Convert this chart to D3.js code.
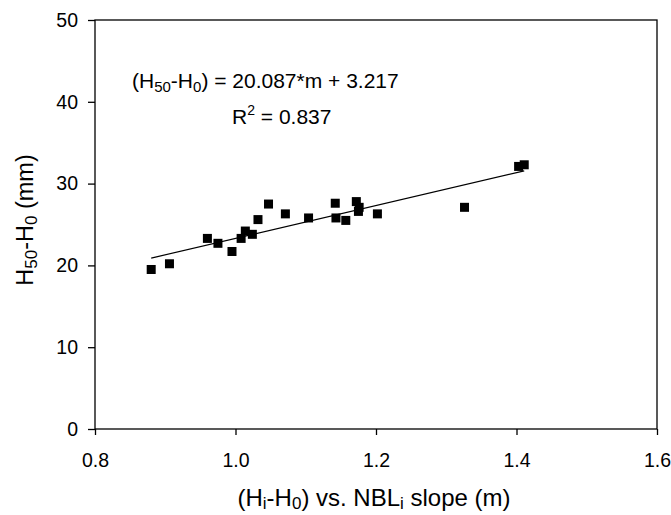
<!DOCTYPE html>
<html>
<head>
<meta charset="utf-8">
<script src="https://cdn.jsdelivr.net/npm/d3@7"></script>
<style>
  body { margin: 0; background: #fff; }
  text { font-family: "Liberation Sans", Arial, sans-serif; fill: #000; }
</style>
</head>
<body>
<div id="viz"></div>
<script>
const slopeM = [0.880, 0.906, 0.960, 0.975, 0.995, 1.008, 1.014, 1.024, 1.032, 1.047,
                1.071, 1.104, 1.142, 1.143, 1.157, 1.172, 1.176, 1.175, 1.202, 1.326,
                1.403, 1.411];
const h50 = [19.5, 20.2, 23.3, 22.7, 21.7, 23.3, 24.2, 23.8, 25.6, 27.5,
             26.3, 25.8, 27.6, 25.8, 25.5, 27.8, 27.1, 26.6, 26.3, 27.1,
             32.1, 32.3];
const fitSlope = 20.087;
const fitIntercept = 3.217;
const xTicks = [0.8, 1.0, 1.2, 1.4, 1.6];
const yTicks = [0, 10, 20, 30, 40, 50];

const width = 671;
const height = 515;
const margin = {top: 20, right: 14, bottom: 86, left: 95};

const svg = d3.select('#viz')
  .append('svg')
  .attr('width', width)
  .attr('height', height);

const x = d3.scaleLinear()
  .domain([0.8, 1.6])
  .range([margin.left, width - margin.right]);
const y = d3.scaleLinear()
  .domain([0, 50])
  .range([height - margin.bottom, margin.top]);

// plot frame
svg.append('rect')
  .attr('x', x(0.8))
  .attr('y', y(50))
  .attr('width', x(1.6) - x(0.8))
  .attr('height', y(0) - y(50))
  .attr('fill', 'none')
  .attr('stroke', '#000')
  .attr('stroke-width', 1.3);

const xAxis = svg.append('g')
  .attr('transform', `translate(0, ${y(0)})`)
  .call(d3.axisBottom(x).tickValues(xTicks).tickFormat(d3.format('.1f')).tickSize(6).tickPadding(18));
const yAxis = svg.append('g')
  .attr('transform', `translate(${x(0.8)}, 0)`)
  .call(d3.axisLeft(y).tickValues(yTicks).tickSize(7).tickPadding(10));

[xAxis, yAxis].forEach(g => {
  g.select('.domain').remove();
  g.selectAll('line').attr('stroke', '#000').attr('stroke-width', 1.3);
  g.selectAll('text')
    .attr('font-size', 19.5)
    .attr('font-family', '"Liberation Sans", Arial, sans-serif')
    .attr('fill', '#333');
});

// trend line
const ext = d3.extent(slopeM);
svg.append('line')
  .attr('x1', x(ext[0]))
  .attr('y1', y(fitSlope * ext[0] + fitIntercept))
  .attr('x2', x(ext[1]))
  .attr('y2', y(fitSlope * ext[1] + fitIntercept))
  .attr('stroke', '#000')
  .attr('stroke-width', 1.2);

// points
const s = 9;
svg.selectAll('.pt')
  .data(slopeM.map((m, i) => [m, h50[i]]))
  .join('rect')
  .attr('class', 'pt')
  .attr('x', d => x(d[0]) - s / 2)
  .attr('y', d => y(d[1]) - s / 2)
  .attr('width', s)
  .attr('height', s)
  .attr('fill', '#000');

// equation text
const eq = svg.append('text')
  .attr('x', 132)
  .attr('y', 88)
  .attr('font-size', 21);
eq.append('tspan').text('(H');
eq.append('tspan').attr('font-size', 15).attr('dy', 4).text('50');
eq.append('tspan').attr('dy', -4).text('-H');
eq.append('tspan').attr('font-size', 15).attr('dy', 4).text('0');
eq.append('tspan').attr('dy', -4).text(') = 20.087*m + 3.217');

const r2 = svg.append('text')
  .attr('x', 232)
  .attr('y', 124)
  .attr('font-size', 21);
r2.append('tspan').text('R');
r2.append('tspan').attr('font-size', 14).attr('dy', -9).text('2');
r2.append('tspan').attr('dy', 9).text(' = 0.837');

// x axis title
const xt = svg.append('text')
  .attr('x', 374)
  .attr('y', 506)
  .attr('text-anchor', 'middle')
  .attr('font-size', 24);
xt.append('tspan').text('(H');
xt.append('tspan').attr('font-size', 17).attr('dy', 3).text('i');
xt.append('tspan').attr('dy', -3).text('-H');
xt.append('tspan').attr('font-size', 17).attr('dy', 3).text('0');
xt.append('tspan').attr('dy', -3).text(') vs. NBL');
xt.append('tspan').attr('font-size', 17).attr('dy', 3).text('i');
xt.append('tspan').attr('dy', -3).text(' slope (m)');

// y axis title
const yt = svg.append('text')
  .attr('transform', `translate(33, 220) rotate(-90)`)
  .attr('text-anchor', 'middle')
  .attr('font-size', 23.5);
yt.append('tspan').text('H');
yt.append('tspan').attr('font-size', 17).attr('dy', 4).text('50');
yt.append('tspan').attr('dy', -4).text('-H');
yt.append('tspan').attr('font-size', 17).attr('dy', 4).text('0');
yt.append('tspan').attr('dy', -4).text(' (mm)');
</script>
</body>
</html>
